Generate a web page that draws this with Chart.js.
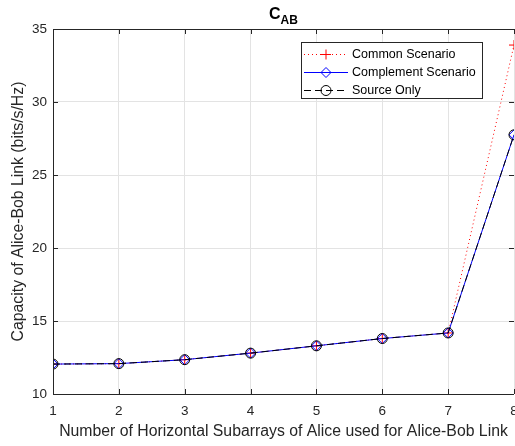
<!DOCTYPE html>
<html>
<head>
<meta charset="utf-8">
<script src="https://cdn.jsdelivr.net/npm/chart.js@4/dist/chart.umd.min.js"></script>
<style>
  html, body { margin: 0; padding: 0; background: #fff; overflow: hidden; }
  canvas { display: block; }
</style>
</head>
<body>
<canvas id="cab" width="520" height="446"></canvas>
<script>
// number of horizontal subarrays
const subarrays = [1, 2, 3, 4, 5, 6, 7, 8];
// capacity in bits/s/Hz
const commonScenario = [12.05, 12.08, 12.35, 12.8, 13.3, 13.8, 14.18, 33.9];
const complementScenario = [12.05, 12.08, 12.35, 12.8, 13.3, 13.8, 14.18, 27.75];
const sourceOnly = [12.05, 12.08, 12.35, 12.8, 13.3, 13.8, 14.18, 27.75];
const seriesNames = ['Common Scenario', 'Complement Scenario', 'Source Only'];
const yTicks = [10, 15, 20, 25, 30, 35];

const FONT = '"Liberation Sans", Arial, sans-serif';
const AXIS = '#262626';

const toPoints = vals => vals.map((v, i) => ({ x: subarrays[i], y: v }));

// title with subscript, MATLAB style
const titlePlugin = {
    id: 'subTitle',
    afterDraw(chart) {
        const ctx = chart.ctx;
        const cx = (chart.chartArea.left + chart.chartArea.right) / 2;
        ctx.save();
        ctx.fillStyle = '#000';
        ctx.textBaseline = 'alphabetic';
        ctx.font = 'bold 16px ' + FONT;
        const wC = ctx.measureText('C').width;
        ctx.font = 'bold 12px ' + FONT;
        const wAB = ctx.measureText('AB').width;
        const x0 = cx - (wC + wAB) / 2;
        ctx.font = 'bold 16px ' + FONT;
        ctx.fillText('C', x0, 19);
        ctx.font = 'bold 12px ' + FONT;
        ctx.fillText('AB', x0 + wC, 24);
        ctx.restore();
    }
};

// box, inward ticks and legend
const framePlugin = {
    id: 'frame',
    afterDatasetsDraw(chart) {
        const ctx = chart.ctx;
        const { left, right, top, bottom } = chart.chartArea;
        const xs = chart.scales.x, ys = chart.scales.y;
        ctx.save();
        ctx.strokeStyle = AXIS;
        ctx.lineWidth = 1;
        ctx.beginPath();
        ctx.moveTo(left + 0.5, top + 0.5);
        ctx.lineTo(right, top + 0.5);
        ctx.moveTo(left + 0.5, top);
        ctx.lineTo(left + 0.5, bottom + 0.5);
        ctx.lineTo(right, bottom + 0.5);
        subarrays.forEach(v => {
            const px = Math.round(xs.getPixelForValue(v)) + 0.5;
            ctx.moveTo(px, bottom);
            ctx.lineTo(px, bottom - 5);
            ctx.moveTo(px, top);
            ctx.lineTo(px, top + 5);
        });
        yTicks.forEach(v => {
            const py = Math.round(ys.getPixelForValue(v)) + 0.5;
            ctx.moveTo(left, py);
            ctx.lineTo(left + 5, py);
            ctx.moveTo(right, py);
            ctx.lineTo(right - 5, py);
        });
        ctx.stroke();

        // legend
        const bx = 301.5, by = 42.5, bw = 181, bh = 56;
        ctx.fillStyle = '#fff';
        ctx.fillRect(bx, by, bw, bh);
        ctx.strokeStyle = AXIS;
        ctx.strokeRect(bx, by, bw, bh);
        const rows = [54, 72, 90];
        chart.data.datasets.forEach((ds, i) => {
            const y = rows[i] + 0.5;
            ctx.strokeStyle = ds.borderColor;
            ctx.lineWidth = 1;
            ctx.setLineDash(ds.borderDash || []);
            ctx.beginPath();
            ctx.moveTo(304, y);
            ctx.lineTo(348, y);
            ctx.stroke();
            ctx.setLineDash([]);
            ctx.fillStyle = 'rgba(0,0,0,0)';
            Chart.helpers.drawPoint(ctx, {
                pointStyle: ds.pointStyle,
                radius: ds.pointRadius,
                rotation: 0,
                borderWidth: 1
            }, 326, y);
            ctx.fillStyle = '#000';
            ctx.font = '12.5px ' + FONT;
            ctx.textBaseline = 'middle';
            ctx.fillText(seriesNames[i], 352, y);
        });
        ctx.restore();
    }
};

new Chart(document.getElementById('cab'), {
    type: 'line',
    data: {
        datasets: [
            {
                label: seriesNames[0],
                data: toPoints(commonScenario),
                borderColor: '#ff0000',
                borderWidth: 1,
                borderDash: [1, 3],
                pointStyle: 'cross',
                pointRadius: 5,
                pointBorderColor: '#ff0000',
                pointBackgroundColor: 'transparent',
                order: 3
            },
            {
                label: seriesNames[1],
                data: toPoints(complementScenario),
                borderColor: '#0000ff',
                borderWidth: 1,
                pointStyle: 'rectRot',
                pointRadius: 5,
                pointBorderColor: '#0000ff',
                pointBackgroundColor: 'transparent',
                order: 2
            },
            {
                label: seriesNames[2],
                data: toPoints(sourceOnly),
                borderColor: '#000000',
                borderWidth: 1,
                borderDash: [7, 4],
                pointStyle: 'circle',
                pointRadius: 5,
                pointBorderColor: '#000000',
                pointBackgroundColor: 'transparent',
                order: 1
            }
        ]
    },
    options: {
        responsive: false,
        animation: false,
        events: [],
        layout: { padding: { top: 29, right: 4, left: 0, bottom: 0 } },
        plugins: {
            legend: { display: false },
            tooltip: { enabled: false }
        },
        scales: {
            x: {
                type: 'linear',
                min: 1,
                max: 8,
                afterFit: s => { s.height = 52; s.paddingLeft = 0; s.paddingRight = 0; },
                afterBuildTicks: s => { s.ticks = subarrays.map(v => ({ value: v })); },
                border: { display: false },
                grid: { color: '#e3e3e3', drawTicks: false },
                ticks: { color: AXIS, font: { family: FONT, size: 13.5 }, padding: 9, maxRotation: 0 },
                title: {
                    display: true,
                    text: 'Number of Horizontal Subarrays of Alice used for Alice-Bob Link',
                    color: AXIS,
                    font: { family: FONT, size: 15.8 },
                    padding: { bottom: 5 }
                }
            },
            y: {
                min: 10,
                max: 35,
                afterFit: s => { s.width = 53; s.paddingTop = 0; s.paddingBottom = 0; },
                afterBuildTicks: s => { s.ticks = yTicks.map(v => ({ value: v })); },
                border: { display: false },
                grid: { color: '#e3e3e3', drawTicks: false },
                ticks: { color: AXIS, font: { family: FONT, size: 13.5 }, padding: 6 },
                title: {
                    display: true,
                    text: 'Capacity of Alice-Bob Link (bits/s/Hz)',
                    color: AXIS,
                    font: { family: FONT, size: 15.8 },
                    padding: { top: 9 }
                }
            }
        }
    },
    plugins: [titlePlugin, framePlugin]
});
</script>
</body>
</html>
